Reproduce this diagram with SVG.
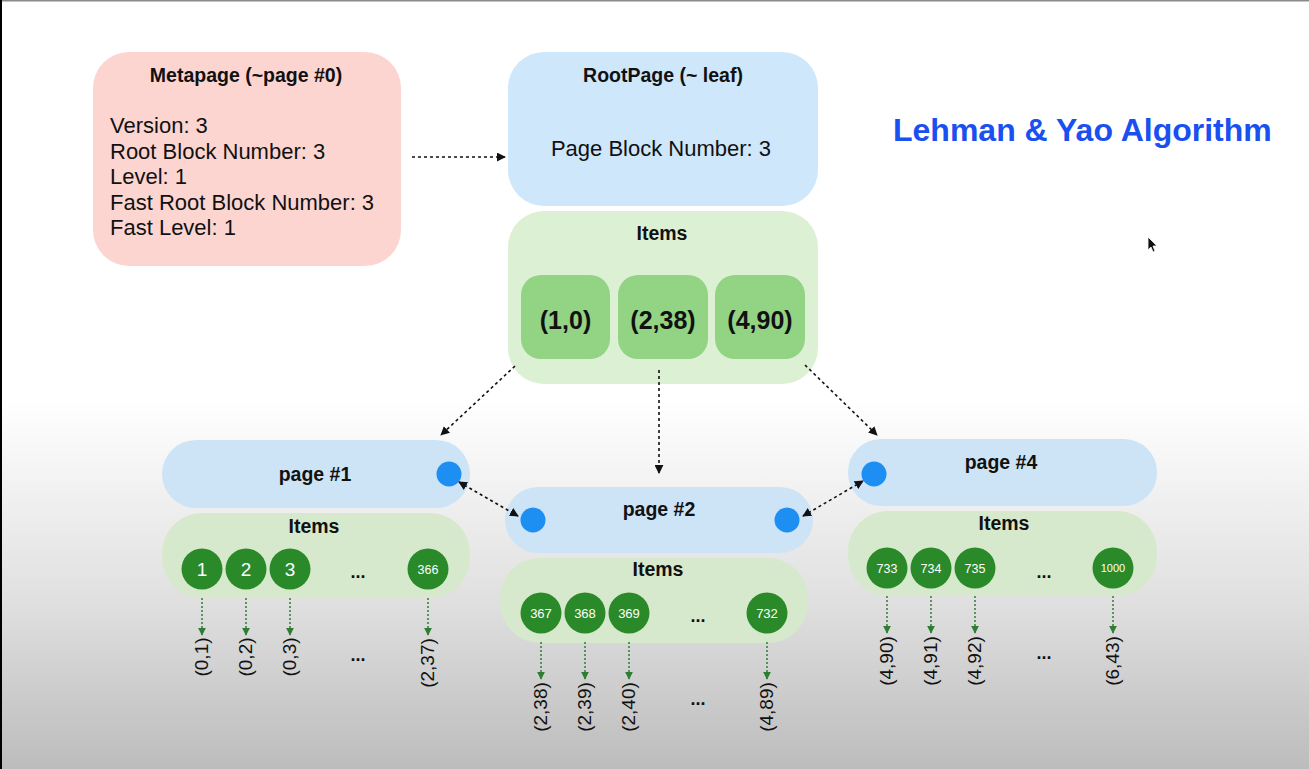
<svg xmlns="http://www.w3.org/2000/svg" width="1309" height="769" viewBox="0 0 1309 769">
<defs>
<linearGradient id="bg" x1="0" y1="0" x2="0" y2="1">
<stop offset="0" stop-color="#ffffff"/>
<stop offset="0.52" stop-color="#ffffff"/>
<stop offset="0.78" stop-color="#e0e0e0"/>
<stop offset="1" stop-color="#bcbcbc"/>
</linearGradient>
<marker id="ah" viewBox="0 0 10 10" refX="9" refY="5" markerWidth="9" markerHeight="9" markerUnits="userSpaceOnUse" orient="auto-start-reverse">
<path d="M0,0 L10,5 L0,10 z" fill="#111"/>
</marker>
<marker id="gh" viewBox="0 0 10 10" refX="9" refY="5" markerWidth="8" markerHeight="8" markerUnits="userSpaceOnUse" orient="auto">
<path d="M0,0 L10,5 L0,10 z" fill="#2e7d32"/>
</marker>
</defs>
<style>
text{font-family:"Liberation Sans",Arial,Helvetica,sans-serif;fill:#111}
.b{font-weight:bold}
.meta{fill:#fcd5d1}
.root{fill:#cfe7fb}
.items{fill:#dcf0d4}
.cell{fill:#92d384}
.pg{fill:#cde3f6}
.pitems{fill:#d6e9cc}
.dot{fill:#1d8ff2}
.c{fill:#2a8a2a}
.ct{fill:#ffffff;text-anchor:middle}
.mid{text-anchor:middle}
.hd{font-size:19.5px;font-weight:bold;text-anchor:middle}
.ml{font-size:22px}
.con{stroke:#111;stroke-width:1.6;stroke-dasharray:3 3;fill:none}
.gc{stroke:#2e7d32;stroke-width:1.5;stroke-dasharray:2 2;fill:none}
.lab{font-size:19px;text-anchor:middle}
.dots{font-size:18px;font-weight:bold;text-anchor:middle}
</style>
<rect width="1309" height="769" fill="url(#bg)"/>
<rect x="0" y="0" width="1309" height="1.5" fill="#8a8a8a"/>
<rect x="0" y="0" width="2" height="769" fill="#000"/>

<g id="title"><text x="893" y="141" class="b" style="font-size:32px;fill:#1a4ff0">Lehman &amp; Yao Algorithm</text></g>

<g id="metapage">
<rect x="93" y="52" width="308" height="214" rx="36" class="meta"/>
<text x="246" y="82" class="hd">Metapage (~page #0)</text>
<text x="110" y="133" class="ml">Version: 3</text>
<text x="110" y="158.5" class="ml">Root Block Number: 3</text>
<text x="110" y="184" class="ml">Level: 1</text>
<text x="110" y="209.5" class="ml">Fast Root Block Number: 3</text>
<text x="110" y="235" class="ml">Fast Level: 1</text>
</g>

<g id="rootpage">
<rect x="508" y="52" width="310" height="154" rx="36" class="root"/>
<text x="663" y="82" class="hd">RootPage (~ leaf)</text>
<text x="661" y="156" class="mid" style="font-size:22px">Page Block Number: 3</text>
</g>

<g id="root-items">
<rect x="508" y="211" width="310" height="173" rx="36" class="items"/>
<text x="662" y="240" class="hd">Items</text>
<rect x="521" y="275" width="89" height="84" rx="20" class="cell"/>
<rect x="618" y="275" width="90" height="84" rx="20" class="cell"/>
<rect x="715" y="275" width="90" height="84" rx="20" class="cell"/>
<text x="565.5" y="329" class="b mid" style="font-size:25px">(1,0)</text>
<text x="663" y="329" class="b mid" style="font-size:25px">(2,38)</text>
<text x="760" y="329" class="b mid" style="font-size:25px">(4,90)</text>
</g>

<g id="page1">
<rect x="162" y="440" width="308" height="68" rx="34" class="pg"/>
<text x="315" y="481" class="hd">page #1</text>
<circle cx="449" cy="474" r="12.5" class="dot"/>
</g>
<g id="page1-items">
<rect x="162" y="513" width="308" height="85" rx="40" class="pitems"/>
<text x="314" y="533" class="hd">Items</text>
<circle cx="202" cy="569" r="20.5" class="c"/><text x="202" y="576" class="ct" style="font-size:19px">1</text>
<circle cx="246" cy="569" r="20.5" class="c"/><text x="246" y="576" class="ct" style="font-size:19px">2</text>
<circle cx="290" cy="569" r="20.5" class="c"/><text x="290" y="576" class="ct" style="font-size:19px">3</text>
<text x="358" y="578" class="dots">...</text>
<circle cx="428" cy="569" r="20.5" class="c"/><text x="428" y="574" class="ct" style="font-size:12.5px">366</text>
</g>

<g id="page2">
<rect x="505" y="487" width="308" height="66" rx="33" class="pg"/>
<text x="659" y="516" class="hd">page #2</text>
<circle cx="533" cy="520" r="12.5" class="dot"/>
<circle cx="787" cy="520" r="12.5" class="dot"/>
</g>
<g id="page2-items">
<rect x="500" y="558" width="308" height="85" rx="40" class="pitems"/>
<text x="658" y="576" class="hd">Items</text>
<circle cx="541" cy="613" r="20.5" class="c"/><text x="541" y="618" class="ct" style="font-size:13px">367</text>
<circle cx="585" cy="613" r="20.5" class="c"/><text x="585" y="618" class="ct" style="font-size:13px">368</text>
<circle cx="629" cy="613" r="20.5" class="c"/><text x="629" y="618" class="ct" style="font-size:13px">369</text>
<text x="698" y="622" class="dots">...</text>
<circle cx="767" cy="613" r="20.5" class="c"/><text x="767" y="618" class="ct" style="font-size:13px">732</text>
</g>

<g id="page4">
<rect x="848" y="439" width="309" height="67" rx="33" class="pg"/>
<text x="1001" y="469" class="hd">page #4</text>
<circle cx="874" cy="474" r="12.5" class="dot"/>
</g>
<g id="page4-items">
<rect x="848" y="511" width="309" height="85" rx="40" class="pitems"/>
<text x="1004" y="530" class="hd">Items</text>
<circle cx="887" cy="568" r="20.5" class="c"/><text x="887" y="573" class="ct" style="font-size:12.5px">733</text>
<circle cx="931" cy="568" r="20.5" class="c"/><text x="931" y="573" class="ct" style="font-size:12.5px">734</text>
<circle cx="975" cy="568" r="20.5" class="c"/><text x="975" y="573" class="ct" style="font-size:12.5px">735</text>
<text x="1044" y="578" class="dots">...</text>
<circle cx="1113" cy="568" r="20.5" class="c"/><text x="1113" y="572" class="ct" style="font-size:11px">1000</text>
</g>

<g id="connectors">
<line x1="412" y1="157" x2="505" y2="157" class="con" marker-end="url(#ah)"/>
<line x1="515" y1="366" x2="441" y2="435" class="con" marker-end="url(#ah)"/>
<line x1="659" y1="370" x2="659" y2="473" class="con" marker-end="url(#ah)"/>
<line x1="805" y1="365" x2="877" y2="435" class="con" marker-end="url(#ah)"/>
<line x1="459" y1="482" x2="518" y2="516" class="con" marker-start="url(#ah)" marker-end="url(#ah)"/>
<line x1="803" y1="516" x2="863" y2="481" class="con" marker-start="url(#ah)" marker-end="url(#ah)"/>
<line x1="202" y1="598" x2="202" y2="635" class="gc" marker-end="url(#gh)"/>
<line x1="246" y1="598" x2="246" y2="635" class="gc" marker-end="url(#gh)"/>
<line x1="290" y1="598" x2="290" y2="635" class="gc" marker-end="url(#gh)"/>
<line x1="428" y1="598" x2="428" y2="635" class="gc" marker-end="url(#gh)"/>
<line x1="541" y1="642" x2="541" y2="679" class="gc" marker-end="url(#gh)"/>
<line x1="585" y1="642" x2="585" y2="679" class="gc" marker-end="url(#gh)"/>
<line x1="629" y1="642" x2="629" y2="679" class="gc" marker-end="url(#gh)"/>
<line x1="767" y1="642" x2="767" y2="679" class="gc" marker-end="url(#gh)"/>
<line x1="887" y1="596" x2="887" y2="633" class="gc" marker-end="url(#gh)"/>
<line x1="931" y1="596" x2="931" y2="633" class="gc" marker-end="url(#gh)"/>
<line x1="975" y1="596" x2="975" y2="633" class="gc" marker-end="url(#gh)"/>
<line x1="1113" y1="596" x2="1113" y2="633" class="gc" marker-end="url(#gh)"/>
</g>

<g id="pointers">
<text class="lab" transform="translate(208,657) rotate(-90)">(0,1)</text>
<text class="lab" transform="translate(252,657) rotate(-90)">(0,2)</text>
<text class="lab" transform="translate(296,657) rotate(-90)">(0,3)</text>
<text x="358" y="661" class="dots">...</text>
<text class="lab" transform="translate(434,663) rotate(-90)">(2,37)</text>
<text class="lab" transform="translate(547,707) rotate(-90)">(2,38)</text>
<text class="lab" transform="translate(591,707) rotate(-90)">(2,39)</text>
<text class="lab" transform="translate(635,707) rotate(-90)">(2,40)</text>
<text x="698" y="705" class="dots">...</text>
<text class="lab" transform="translate(773,707) rotate(-90)">(4,89)</text>
<text class="lab" transform="translate(893,661) rotate(-90)">(4,90)</text>
<text class="lab" transform="translate(937,661) rotate(-90)">(4,91)</text>
<text class="lab" transform="translate(981,661) rotate(-90)">(4,92)</text>
<text x="1044" y="659" class="dots">...</text>
<text class="lab" transform="translate(1119,661) rotate(-90)">(6,43)</text>
</g>

<g id="cursor">
<path d="M1148,237 L1148,250 L1151,247 L1153,252 L1155,251 L1153,246 L1157,246 Z" fill="#111" stroke="#fff" stroke-width="0.8"/>
</g>
</svg>
